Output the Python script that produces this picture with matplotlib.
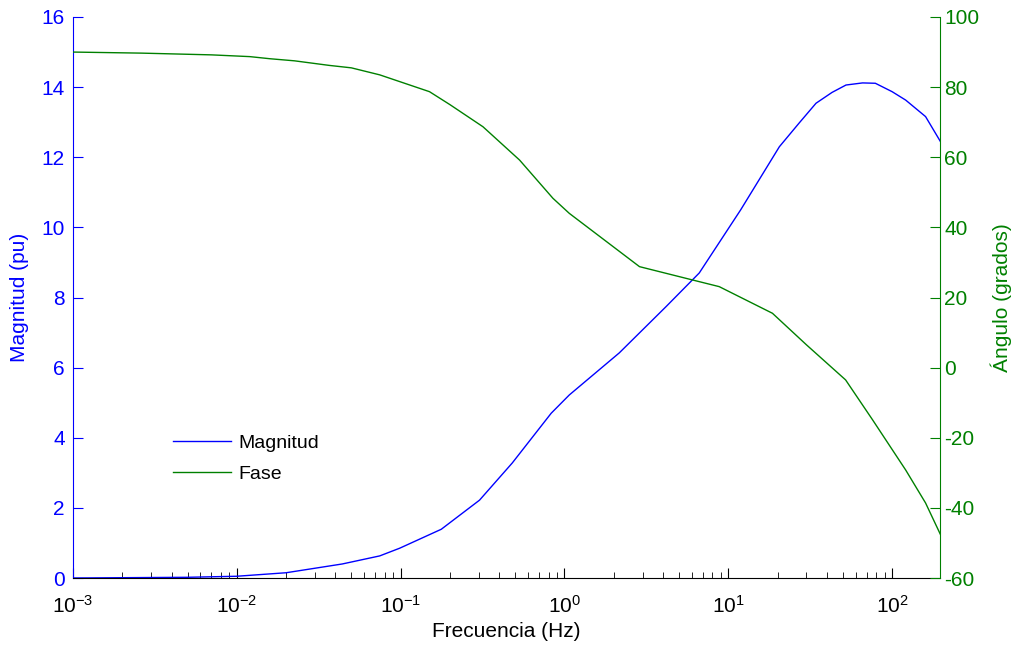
import math
import matplotlib
matplotlib.use("Agg")
import matplotlib.pyplot as plt
from matplotlib.ticker import LogLocator, FixedLocator, FuncFormatter, NullFormatter

plt.rcParams['font.family'] = ['Liberation Sans', 'DejaVu Sans']
plt.rcParams['axes.unicode_minus'] = False
plt.rcParams['mathtext.fontset'] = 'custom'
plt.rcParams['mathtext.rm'] = 'Liberation Sans'
plt.rcParams['mathtext.it'] = 'Liberation Sans:italic'
plt.rcParams['mathtext.bf'] = 'Liberation Sans:bold'

# magnitud (pu) vs frecuencia (Hz)
freq_mag = [0.001, 0.005, 0.01, 0.02, 0.044, 0.0745, 0.0987, 0.177, 0.303, 0.48,
            0.83, 1.07, 2.16, 4.17, 6.65, 11.9, 20.5, 27, 34.3, 43, 52.3, 66, 79,
            100, 121, 160, 200]
mag = [0.0, 0.02, 0.05, 0.15, 0.40, 0.63, 0.85, 1.39, 2.22, 3.28,
       4.70, 5.22, 6.42, 7.74, 8.70, 10.5, 12.3, 12.97, 13.54, 13.85, 14.06, 14.12,
       14.11, 13.87, 13.63, 13.16, 12.4]

# fase (grados) vs frecuencia (Hz)
freq_fase = [0.001, 0.0026, 0.007, 0.012, 0.0159, 0.0225, 0.0366, 0.05, 0.0745,
             0.15, 0.2, 0.318, 0.532, 0.85, 1.07, 2.87, 6.05, 8.8, 18.6, 30, 52, 76,
             121, 160, 200]
fase = [90.0, 89.7, 89.2, 88.7, 88.1, 87.5, 86.2, 85.5, 83.5,
        78.7, 75.0, 68.7, 59.2, 48.3, 44.0, 28.8, 25.0, 23.1, 15.5, 6.5, -3.5, -14.9,
        -29.2, -38.6, -48.2]

azul = (0, 0, 1)
verde = (0, 0.5, 0)

fig = plt.figure(figsize=(10.16, 6.5), dpi=100)
ax1 = fig.add_axes([73 / 1016, 72 / 650, 867 / 1016, 561 / 650])
ax2 = ax1.twinx()

l1, = ax1.plot(freq_mag, mag, color=azul, lw=1.0, label='Magnitud')
l2, = ax2.plot(freq_fase, fase, color=verde, lw=1.0, label='Fase')

ax1.set_xscale('log')
ax1.set_xlim(1e-3, 196)
ax1.set_ylim(0, 16)
ax2.set_ylim(-60, 100)

ax1.xaxis.set_major_locator(LogLocator(base=10, numticks=10))
ax1.xaxis.set_minor_locator(LogLocator(base=10, subs=range(2, 10), numticks=20))
ax1.xaxis.set_minor_formatter(NullFormatter())
ax1.xaxis.set_major_formatter(FuncFormatter(
    lambda v, p: r'$\mathregular{10^{%d}}$' % round(math.log10(v))))
ax1.yaxis.set_major_locator(FixedLocator(range(0, 17, 2)))
ax2.yaxis.set_major_locator(FixedLocator(range(-60, 101, 20)))

for s in ['top', 'right']:
    ax1.spines[s].set_visible(False)
for s in ['top', 'left', 'bottom']:
    ax2.spines[s].set_visible(False)
ax1.spines['left'].set_color(azul)
ax1.spines['bottom'].set_color('black')
ax2.spines['right'].set_color(verde)

ax1.tick_params(axis='x', which='major', direction='in', length=7, pad=12,
                labelsize=15, colors='black')
ax1.tick_params(axis='x', which='minor', direction='in', length=4, colors='black')
ax1.tick_params(axis='y', direction='in', length=7, pad=6, labelsize=15,
                colors=azul)
ax2.tick_params(axis='y', direction='in', length=7, pad=3, labelsize=15,
                colors=verde)

ax1.set_xlabel('Frecuencia (Hz)', fontsize=15, labelpad=4)
ax1.set_ylabel('Magnitud (pu)', fontsize=15, color=azul, labelpad=9)
ax2.set_ylabel('Ángulo (grados)', fontsize=15, color=verde, labelpad=8)

ax2.legend(handles=[l1, l2], loc='upper left', frameon=False,
           bbox_to_anchor=(173 / 1016, 1 - 434 / 650), bbox_transform=fig.transFigure,
           borderpad=0, borderaxespad=0, fontsize=14, handlelength=3.0,
           handletextpad=0.35, labelspacing=0.7)

fig.savefig('out.png', dpi=100)
